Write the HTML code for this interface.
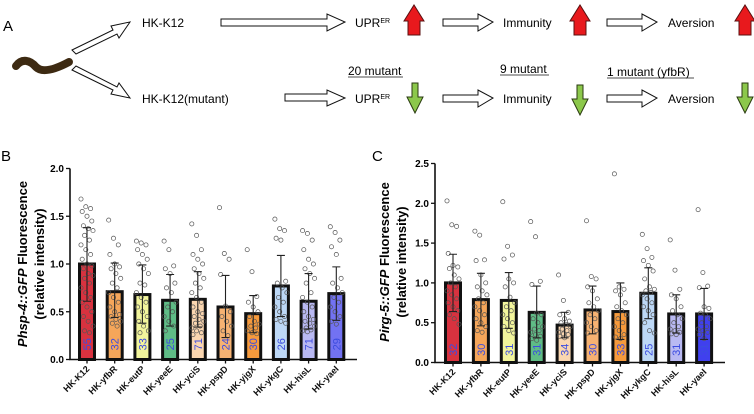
<!DOCTYPE html>
<html><head><meta charset="utf-8">
<style>
html,body{margin:0;padding:0;background:#fff;}
svg{display:block;font-family:"Liberation Sans",Arial,sans-serif;}
</style></head>
<body>
<svg id="fig" width="754" height="414" viewBox="0 0 754 414" xmlns="http://www.w3.org/2000/svg">
<!-- Panel A -->
<g>
<text x="3" y="31" font-size="15">A</text>
<path d="M16,66 C22,58 30,60 36,67 C42,73 54,70 69,62" fill="none" stroke="#3d2a12" stroke-width="8" stroke-linecap="round"/>
<polygon points="72,50 113,30 111,26 130,22 119,38 117,34 76,54" fill="#fff" stroke="#111" stroke-width="1"/>
<polygon points="72,70 113,90 111,94 130,98 119,83 117,87 76,66" fill="#fff" stroke="#111" stroke-width="1"/>
<text x="142" y="27" font-size="12">HK-K12</text>
<text x="142" y="103" font-size="12">HK-K12(mutant)</text>
<polygon points="221,19 327,19 327,14 345,22 327,31 327,26 221,26" fill="#fff" stroke="#111" stroke-width="1"/>
<polygon points="285,94 327,94 327,90 345,98 327,106 327,101 285,101" fill="#fff" stroke="#111" stroke-width="1"/>
<text x="355" y="27" font-size="12">UPR<tspan font-size="7" dy="-4">ER</tspan></text>
<text x="355" y="103" font-size="12">UPR<tspan font-size="7" dy="-4">ER</tspan></text>
<g fill="#fff" stroke="#111" stroke-width="1">
<polygon points="443,19 478,19 478,14 493,22 478,31 478,26 443,26"/>
<polygon points="443,95 478,95 478,90 493,98 478,107 478,102 443,102"/>
<polygon points="607,19 642,19 642,14 657,22 642,31 642,26 607,26"/>
<polygon points="607,95 642,95 642,90 657,98 642,107 642,102 607,102"/>
</g>
<text x="503" y="27" font-size="12">Immunity</text>
<text x="503" y="103" font-size="12">Immunity</text>
<text x="668" y="27" font-size="12">Aversion</text>
<text x="668" y="103" font-size="12">Aversion</text>
<g fill="#e8191d" stroke="#5a1010" stroke-width="1">
<polygon points="409,35 409,21 405,21 415,5 425,21 421,21 421,35" transform="translate(-1,0)"/>
<polygon points="574,35 574,21 570,21 580,5 590,21 586,21 586,35"/>
<polygon points="739,35 739,21 735,21 745,5 755,21 751,21 751,35"/>
</g>
<g fill="#8cc84b" stroke="#2a3a10" stroke-width="1">
<polygon points="412,83 418,83 418,97 423,97 415,113 407,97 412,97"/>
<polygon points="577,85 583,85 583,99 588,99 580,115 572,99 577,99"/>
<polygon points="742,83 748,83 748,97 753,97 745,113 737,97 742,97"/>
</g>
<text x="348" y="75" font-size="12">20 mutant</text>
<line x1="348" y1="77" x2="403" y2="77" stroke="#111" stroke-width="0.8"/>
<text x="500" y="73" font-size="12">9 mutant</text>
<line x1="500" y1="75" x2="549" y2="75" stroke="#111" stroke-width="0.8"/>
<text x="607" y="76" font-size="12">1 mutant (yfbR)</text>
<line x1="607" y1="78" x2="694" y2="78" stroke="#111" stroke-width="0.8"/>
</g>
<text x="1" y="161" font-size="15">B</text>
<text x="372" y="161" font-size="15">C</text>
<g id="chartB"></g>
<g id="chartC"></g>
</svg>
<script>
const categories = ["HK-K12","HK-yfbR","HK-eutP","HK-yeeE","HK-yciS","HK-pspD","HK-yjgX","HK-ykgC","HK-hisL","HK-yaeI"];
const colorsB = ["#d8323f","#f5a65a","#f2f59c","#5fbc86","#fad6b0","#f6b272","#f69a3c","#bdd8f6","#b9b9f2","#7272f2"];
const colorsC = ["#d8323f","#f5a65a","#f2f59c","#5fbc86","#fad6b0","#f6b272","#f69a3c","#bdd8f6","#b9b9f2","#4040ee"];
const meanB = [1.00,0.71,0.68,0.62,0.63,0.55,0.48,0.77,0.61,0.69];
const lowB = [0.61,0.44,0.38,0.35,0.34,0.23,0.28,0.45,0.32,0.41];
const highB = [1.38,1.01,0.99,0.89,0.92,0.88,0.67,1.09,0.90,0.97];
const nB = [55,32,33,25,71,24,30,26,71,29];
const ptsB = [
 [1.68,1.6,1.58,1.55,1.5,1.45,1.4,1.37,1.35,1.3,1.25,1.2,1.15,1.1,1.05,1.0,0.98,0.95,0.9,0.88,0.85,0.8,0.75,0.7,0.65,0.6,0.55,0.5,0.45,0.4,0.35,0.3,0.28],
 [1.46,1.27,1.2,1.1,1.0,0.97,0.95,0.9,0.85,0.8,0.75,0.7,0.65,0.6,0.55,0.5,0.47,0.45,0.42,0.4,0.38,0.35],
 [1.24,1.22,1.2,1.15,1.1,1.05,1.0,0.95,0.9,0.8,0.78,0.7,0.65,0.6,0.55,0.5,0.45,0.4,0.35,0.3,0.28],
 [1.24,1.15,0.98,0.95,0.9,0.8,0.75,0.7,0.6,0.55,0.5,0.45,0.4,0.35,0.3],
 [1.42,1.3,1.15,1.1,1.05,1.0,0.95,0.9,0.85,0.8,0.75,0.7,0.65,0.6,0.55,0.5,0.48,0.45,0.42,0.4,0.38,0.35,0.33,0.3,0.28,0.26],
 [1.59,1.11,1.05,0.89,0.56,0.5,0.45,0.4,0.35,0.3,0.25],
 [1.15,0.92,0.66,0.6,0.55,0.5,0.45,0.4,0.37,0.35,0.33,0.3,0.28,0.27],
 [1.47,1.37,1.35,1.27,1.25,0.82,0.8,0.75,0.7,0.65,0.6,0.55,0.5,0.45,0.42,0.4,0.38],
 [1.35,1.32,1.25,1.15,1.05,1.0,0.95,0.9,0.85,0.8,0.7,0.65,0.6,0.55,0.5,0.45,0.42,0.4,0.38,0.35,0.33,0.31,0.3,0.29],
 [1.39,1.33,1.25,1.18,1.1,0.85,0.8,0.75,0.7,0.65,0.6,0.55,0.5,0.45,0.4,0.37]
];
const ticksB = [0,0.5,1.0,1.5,2.0];
const meanC = [1.00,0.79,0.78,0.63,0.47,0.66,0.64,0.87,0.61,0.61];
const lowC = [0.64,0.46,0.43,0.31,0.31,0.36,0.29,0.55,0.37,0.29];
const highC = [1.36,1.12,1.13,0.96,0.63,0.96,1.00,1.19,0.85,0.93];
const nC = [32,30,31,31,34,30,33,25,31,31];
const ptsC = [
 [2.03,1.73,1.71,1.37,1.22,1.2,1.18,1.1,1.05,1.0,0.95,0.9,0.85,0.8,0.75,0.7,0.65,0.6,0.55,0.48],
 [1.65,1.6,1.29,1.28,1.1,1.0,0.95,0.9,0.85,0.8,0.75,0.7,0.65,0.6,0.55,0.5,0.45,0.4,0.38],
 [2.02,1.46,1.35,1.3,1.05,1.0,0.95,0.82,0.75,0.7,0.65,0.6,0.55,0.5,0.45,0.4,0.37],
 [1.77,1.58,1.02,0.98,0.62,0.6,0.55,0.5,0.45,0.42,0.4,0.38,0.35,0.33,0.3,0.28],
 [1.1,0.78,0.63,0.6,0.55,0.52,0.5,0.48,0.45,0.42,0.4,0.38,0.36,0.35,0.33,0.31],
 [1.78,1.08,1.05,0.95,0.9,0.8,0.75,0.7,0.65,0.6,0.55,0.5,0.45,0.4,0.37],
 [2.37,0.95,0.92,0.9,0.85,0.75,0.7,0.65,0.6,0.55,0.5,0.45,0.4,0.35,0.32,0.3],
 [1.61,1.43,1.32,1.28,1.22,1.15,1.05,0.95,0.92,0.9,0.88,0.85,0.8,0.75,0.7,0.65,0.6,0.5,0.4,0.37],
 [1.54,1.16,0.92,0.85,0.8,0.7,0.65,0.6,0.55,0.5,0.45,0.42,0.4,0.38,0.36,0.35],
 [1.92,1.13,0.96,0.94,0.7,0.68,0.62,0.6,0.55,0.5,0.45,0.42,0.4,0.38,0.35,0.3]
];
const ticksC = [0,0.5,1.0,1.5,2.0,2.5];

const NS = "http://www.w3.org/2000/svg";
function mk(parent, tag, attrs){const e=document.createElementNS(NS,tag);for(const k in attrs)e.setAttribute(k,attrs[k]);parent.appendChild(e);return e;}

function drawChart(gid, cfg){
  const g=document.getElementById(gid);
  const y=v=>cfg.y0-(v/cfg.ymax)*(cfg.y0-cfg.yTop);
  const x=i=>cfg.xFirst+i*cfg.step;
  categories.forEach((c,i)=>{
    const b=mk(g,"rect",{x:x(i)-7.5,y:y(cfg.mean[i]),width:15,height:cfg.y0-y(cfg.mean[i]),fill:cfg.colors[i],stroke:"#111","stroke-width":3});
    
    
  });
  cfg.pts.forEach((arr,i)=>{
    arr.forEach((v,j)=>{
      const off=((j*37)%11-5)*1.2;
      const p=mk(g,"circle",{cx:x(i)+off,cy:y(v),r:2.1,fill:"none",stroke:"#555","stroke-width":0.7});
      
      
    });
  });
  categories.forEach((c,i)=>{
    const e=mk(g,"path",{d:`M${x(i)},${y(cfg.low[i])}V${y(cfg.high[i])}M${x(i)-4},${y(cfg.high[i])}H${x(i)+4}M${x(i)-4},${y(cfg.low[i])}H${x(i)+4}`,stroke:"#222","stroke-width":1.1,fill:"none"});
    
    
    const t=mk(g,"text",{x:0,y:0,transform:`translate(${x(i)+4},${y(0.16)}) rotate(-90)`,"text-anchor":"middle","font-size":11,fill:"#3c4ce0"});
    t.textContent=cfg.n[i];
    
    
    mk(g,"line",{x1:x(i),x2:x(i),y1:cfg.y0,y2:cfg.y0+4,stroke:"#111","stroke-width":1.3});
    const lb=mk(g,"text",{x:0,y:0,transform:`translate(${x(i)+3},${cfg.y0+10}) rotate(-45)`,"text-anchor":"end","font-size":9,"font-weight":"bold",fill:"#111"});
    lb.textContent=c;
    
    
  });
  const ax=mk(g,"path",{d:`M${cfg.xAxis},${cfg.yTop}V${cfg.y0}H${cfg.xEnd}`,stroke:"#111","stroke-width":1.6,fill:"none"});
  
  
  cfg.ticks.forEach(t=>{
    mk(g,"line",{x1:cfg.xAxis-4,x2:cfg.xAxis,y1:y(t),y2:y(t),stroke:"#111","stroke-width":1.3});
    const tl=mk(g,"text",{x:cfg.xAxis-6,y:y(t)+3.5,"text-anchor":"end","font-size":10,"font-weight":"bold"});
    tl.textContent=t.toFixed(1);
    
    
  });
  const yt=mk(g,"text",{x:0,y:0,transform:`translate(${cfg.titleX},${cfg.titleY}) rotate(-90)`,"text-anchor":"middle","font-size":13,"font-weight":"bold"});
  yt.innerHTML=`<tspan font-style="italic">${cfg.gene}</tspan> Fluorescence`;
  
  
  const yt2=mk(g,"text",{x:0,y:0,transform:`translate(${cfg.titleX+17},${cfg.titleY}) rotate(-90)`,"text-anchor":"middle","font-size":13,"font-weight":"bold"});
  yt2.textContent="(relative intensity)";
  
  
}
drawChart("chartB",{y0:359.5,yTop:168.5,ymax:2.0,xFirst:87,step:27.7,xAxis:70,xEnd:357,mean:meanB,low:lowB,high:highB,n:nB,pts:ptsB,colors:colorsB,ticks:ticksB,titleX:27,titleY:264,gene:"Phsp-4::GFP"});
drawChart("chartC",{y0:362.5,yTop:163.5,ymax:2.5,xFirst:453,step:27.9,xAxis:435,xEnd:725,mean:meanC,low:lowC,high:highC,n:nC,pts:ptsC,colors:colorsC,ticks:ticksC,titleX:389,titleY:262,gene:"Pirg-5::GFP"});
</script>
</body></html>
